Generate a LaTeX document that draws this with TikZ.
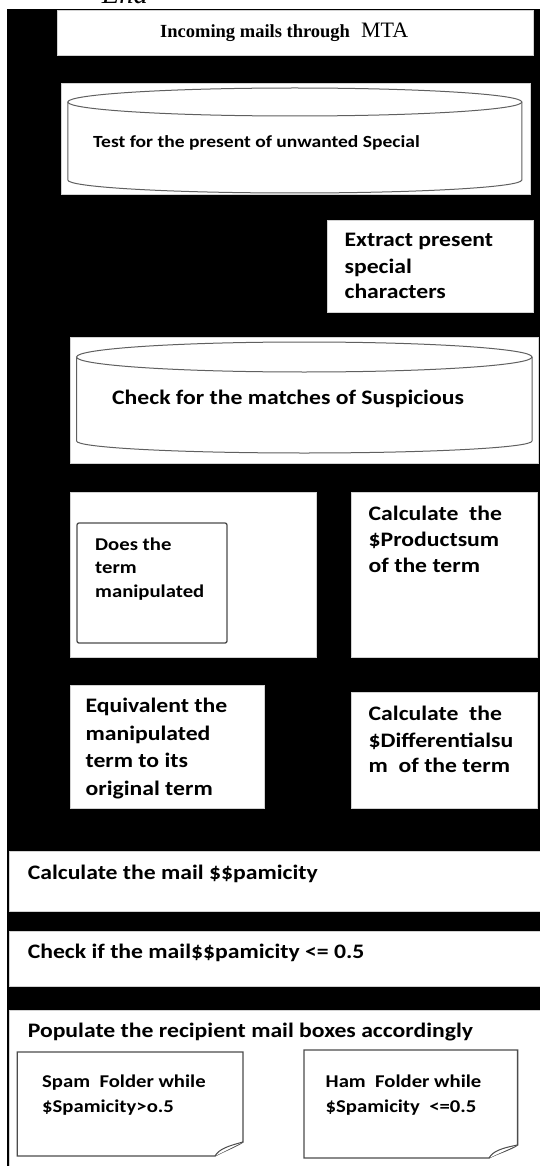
\documentclass[tikz,border=0pt]{standalone}
\usepackage{fontspec}
\newfontfamily\calfont[FakeStretch=1.15]{Carlito}
\newfontfamily\serfont{Liberation Serif}
\begin{document}
\begin{tikzpicture}[x=1pt,y=-1pt,
  wbox/.style={fill=white,draw=gray!35,line width=0.5pt},
  cyl/.style={draw=gray!75!black,line width=1pt,fill=white},
  doc/.style={draw=gray!60!black,line width=1.3pt,fill=white},
  tx/.style={anchor=base west,inner sep=0pt,font=\calfont\bfseries\fontsize{20.6}{24}\selectfont},
  txs/.style={anchor=base west,inner sep=0pt,font=\calfont\bfseries\fontsize{17}{20}\selectfont},
  txm/.style={anchor=base west,inner sep=0pt,font=\calfont\bfseries\fontsize{18}{21}\selectfont}]
\useasboundingbox (0,0) rectangle (540,1166);
\fill[white] (0,0) rectangle (540,1166);
\fill[black] (6.9,9) rectangle (540,1166);
\node[anchor=base west,inner sep=0pt,font=\serfont\itshape\fontsize{28.5}{30}\selectfont] (endt) at (101.7,3.5) {End};
% box 1
\path[wbox] (56.8,10) rectangle (533,55);
\node[anchor=base west,inner sep=0pt] (t1) at (160,38) {\serfont\bfseries\fontsize{18.5}{20}\selectfont Incoming mails through\hspace{11pt}{\mdseries\fontsize{22}{24}\selectfont MTA}};
% box 2 cylinder
\path[wbox] (61.3,83) rectangle (530,194);
\draw[cyl] (67.8,102) -- (67.8,180) arc[start angle=180,end angle=360,x radius=227pt,y radius=13pt] -- (521.8,102);
\draw[cyl] (294.8,102) ellipse[x radius=227pt,y radius=14pt];
\node[txs] (t2) at (93,148) {Test for the present of unwanted Special};
% box 3
\path[wbox] (327,220) rectangle (533,312);
\node[tx] (t3a) at (344.4,247) {Extract present};
\node[tx] (t3b) at (344.4,273) {special};
\node[tx] (t3c) at (344.4,298) {characters};
% box 4 cylinder
\path[wbox] (70.6,337) rectangle (538.5,463);
\draw[cyl] (76.5,357) -- (76.5,441) arc[start angle=180,end angle=360,x radius=227.75pt,y radius=12pt] -- (532,357);
\draw[cyl] (304.25,357) ellipse[x radius=227.75pt,y radius=15pt];
\node[tx] (t4) at (112,404) {Check for the matches of Suspicious};
% box 5
\path[wbox] (70.6,492) rectangle (316,657);
\draw[draw=gray!60!black,line width=1.3pt,rounded corners=2pt,fill=white] (77,523) rectangle (227,643);
\node[txm] (t5a) at (95,550) {Does the};
\node[txm] (t5b) at (95,573.5) {term};
\node[txm] (t5c) at (95,597) {manipulated};
% box 6
\path[wbox] (351,492.5) rectangle (537,657);
\node[tx] (t6a) at (368.5,520) {Calculate\ \ the};
\node[tx] (t6b) at (368.5,546) {\$Productsum};
\node[tx] (t6c) at (368.5,572) {of the term};
% box 7
\path[wbox] (70.6,685) rectangle (264.5,808);
\node[tx] (t7a) at (85.4,712) {Equivalent the};
\node[tx] (t7b) at (85.4,740) {manipulated};
\node[tx] (t7c) at (85.4,767) {term to its};
\node[tx] (t7d) at (85.4,795) {original term};
% box 8
\path[wbox] (351,692.7) rectangle (537,808.3);
\node[tx] (t8a) at (368.5,720) {Calculate\ \ the};
\node[tx] (t8b) at (368.5,747) {\$Differentialsu};
\node[tx] (t8c) at (368.5,772) {m\ \ of the term};
% box 9
\path[wbox] (9.6,851.7) rectangle (540,911.7);
\node[tx] (t9) at (27.6,879) {Calculate the mail \$\$pamicity};
% box 10
\path[wbox] (9.6,931.7) rectangle (540,986);
\node[tx] (t10) at (27.6,958) {Check if the mail\$\$pamicity <= 0.5};
% box 11
\path[wbox] (9.6,1010) rectangle (540,1166);
\node[tx] (t11) at (27.6,1037) {Populate the recipient mail boxes accordingly};
% spam doc
\draw[doc] (17.2,1052) -- (243,1052) -- (243,1142) .. controls (235,1147) and (222,1152) .. (215,1156) -- (17.2,1156) -- cycle;
\draw[doc,line width=1pt] (215,1156) .. controls (219,1149) and (228,1146) .. (243,1142);
\node[txm] (tsa) at (42,1087) {Spam\ \ Folder while};
\node[txm] (tsb) at (42,1112) {\$Spamicity>o.5};
% ham doc
\draw[doc] (304,1050) -- (517.6,1050) -- (517.6,1145) .. controls (510,1150) and (496,1154) .. (489,1158) -- (304,1158) -- cycle;
\draw[doc,line width=1pt] (489,1158) .. controls (493,1151) and (502,1148) .. (517.6,1145);
\node[txm] (tha) at (325.5,1087) {Ham\ \ Folder while};
\node[txm] (thb) at (325.5,1112) {\$Spamicity\ \ <=0.5};
\end{tikzpicture}
\end{document}
